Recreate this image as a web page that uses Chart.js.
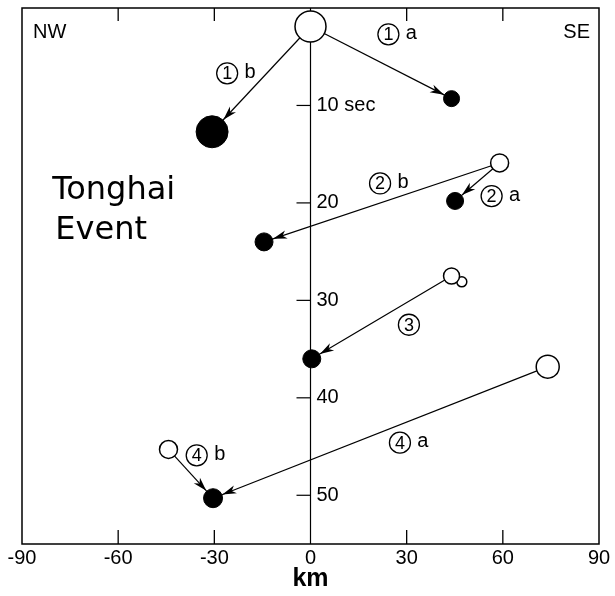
<!DOCTYPE html>
<html>
<head>
<meta charset="utf-8">
<script src="https://cdn.jsdelivr.net/npm/chart.js@4.4.0/dist/chart.umd.min.js"></script>
<style>
  html, body { margin: 0; padding: 0; background: #fff; }
  #wrap { width: 615px; height: 596px; }
</style>
</head>
<body>
<div id="wrap"><canvas id="grafico"></canvas></div>
<script>
// pontos de origem (círculos abertos)
const startNames = ['1', '2', '3s', '3', '4a', '4b'];
const startKm = [0, 59, 47.2, 44, 74, -44.3];
const startSec = [1.9, 15.9, 28.1, 27.5, 36.8, 45.3];

// pontos de destino (círculos cheios)
const endNames = ['1a', '1b', '2a', '2b', '3', '4'];
const endKm = [44, -30.7, 45.1, -14.5, 0.4, -30.4];
const endSec = [9.3, 12.7, 19.8, 24.0, 36.0, 50.3];

// setas: índice de origem -> índice de destino
const arrowFrom = [0, 0, 1, 1, 3, 4, 5];
const arrowTo = [0, 1, 2, 3, 4, 5, 5];

const xTicks = [-90, -60, -30, 0, 30, 60, 90];
const yTicks = [10, 20, 30, 40, 50];
const yTickLabels = ['10 sec', '20', '30', '40', '50'];

// rótulos circulados junto às setas
const tagNums = ['1', '1', '2', '2', '3', '4', '4'];
const tagLetters = ['a', 'b', 'b', 'a', '', 'a', 'b'];
const tagKm = [24.3, -26, 21.7, 56.5, 30.7, 27.9, -35.5];
const tagSec = [2.7, 6.7, 18.0, 19.3, 32.5, 44.6, 45.9];

// estilo (tamanhos dos círculos, em px)
const startRadius = [15.5, 9, 5, 8, 11.5, 9];
const endRadius = [8, 16, 8.5, 9, 9, 9.5];

const FONT = "'Liberation Sans', sans-serif";

const linhas = arrowFrom.map((a, i) => ({
    type: 'line',
    data: [
        { x: startKm[a], y: startSec[a] },
        { x: endKm[arrowTo[i]], y: endSec[arrowTo[i]] }
    ],
    borderColor: '#000',
    borderWidth: 1.2,
    pointRadius: 0,
    order: 2
}));

const desenhos = {
    id: 'desenhos',
    beforeDatasetsDraw(chart) {
        const { ctx, chartArea: a, scales: { x, y } } = chart;
        const cx = x.getPixelForValue(0);
        ctx.save();
        ctx.strokeStyle = '#000';
        ctx.fillStyle = '#000';

        // moldura
        ctx.lineWidth = 1.5;
        ctx.strokeRect(a.left, a.top, a.right - a.left, a.bottom - a.top);

        // marcas internas do eixo x
        ctx.lineWidth = 1.3;
        xTicks.forEach(v => {
            if (v === 0 || Math.abs(v) === 90) return;
            const px = x.getPixelForValue(v);
            ctx.beginPath();
            ctx.moveTo(px, a.top); ctx.lineTo(px, a.top + 13);
            ctx.moveTo(px, a.bottom); ctx.lineTo(px, a.bottom - 14);
            ctx.stroke();
        });

        // eixo do tempo no centro
        ctx.lineWidth = 1.2;
        ctx.beginPath();
        ctx.moveTo(cx, a.top); ctx.lineTo(cx, a.bottom);
        ctx.stroke();

        ctx.font = `20px ${FONT}`;
        ctx.textBaseline = 'middle';
        ctx.textAlign = 'left';
        yTicks.forEach((v, i) => {
            const py = y.getPixelForValue(v);
            ctx.beginPath();
            ctx.moveTo(cx - 14, py); ctx.lineTo(cx, py);
            ctx.stroke();
            ctx.fillText(yTickLabels[i], cx + 6, py);
        });

        ctx.fillText('NW', a.left + 11, a.top + 24);
        ctx.textAlign = 'right';
        ctx.fillText('SE', a.right - 9, a.top + 24);

        ctx.textAlign = 'left';
        ctx.font = `32px 'DejaVu Sans', sans-serif`;
        ctx.fillText('Tonghai', x.getPixelForValue(-80.6), y.getPixelForValue(18.7));
        ctx.fillText('Event', x.getPixelForValue(-79.6), y.getPixelForValue(22.9));
        ctx.restore();
    },
    afterDatasetsDraw(chart) {
        const { ctx, scales: { x, y } } = chart;
        ctx.save();
        ctx.fillStyle = '#000';
        ctx.strokeStyle = '#000';

        // pontas das setas
        arrowFrom.forEach((s, i) => {
            const e = arrowTo[i];
            const x0 = x.getPixelForValue(startKm[s]), y0 = y.getPixelForValue(startSec[s]);
            const x1 = x.getPixelForValue(endKm[e]), y1 = y.getPixelForValue(endSec[e]);
            const len = Math.hypot(x1 - x0, y1 - y0);
            const dx = (x1 - x0) / len, dy = (y1 - y0) / len;
            const tx = x1 - dx * (endRadius[e] + 0.5), ty = y1 - dy * (endRadius[e] + 0.5);
            const bx = tx - dx * 14, by = ty - dy * 14;
            ctx.beginPath();
            ctx.moveTo(tx, ty);
            ctx.lineTo(bx - dy * 4.2, by + dx * 4.2);
            ctx.lineTo(tx - dx * 10, ty - dy * 10);
            ctx.lineTo(bx + dy * 4.2, by - dx * 4.2);
            ctx.closePath();
            ctx.fill();
        });

        // rótulos circulados
        tagNums.forEach((n, i) => {
            const px = x.getPixelForValue(tagKm[i]);
            const py = y.getPixelForValue(tagSec[i]);
            ctx.lineWidth = 1.3;
            ctx.beginPath();
            ctx.arc(px, py, 10.5, 0, Math.PI * 2);
            ctx.stroke();
            ctx.textAlign = 'center';
            ctx.textBaseline = 'middle';
            ctx.font = `18px ${FONT}`;
            ctx.fillText(n, px, py + 1);
            if (tagLetters[i]) {
                ctx.font = `20px ${FONT}`;
                ctx.fillText(tagLetters[i], px + 23, py - 1);
            }
        });
        ctx.restore();
    }
};

new Chart(document.getElementById('grafico'), {
    type: 'scatter',
    data: {
        datasets: [
            ...linhas,
            {
                label: 'origem',
                data: startKm.map((v, i) => ({ x: v, y: startSec[i] })),
                pointRadius: startRadius,
                pointHoverRadius: startRadius,
                pointBackgroundColor: '#fff',
                pointBorderColor: '#000',
                pointBorderWidth: 1.5,
                order: 1
            },
            {
                label: 'destino',
                data: endKm.map((v, i) => ({ x: v, y: endSec[i] })),
                pointRadius: endRadius,
                pointHoverRadius: endRadius,
                pointBackgroundColor: '#000',
                pointBorderColor: '#000',
                pointBorderWidth: 1,
                order: 0
            }
        ]
    },
    options: {
        responsive: true,
        maintainAspectRatio: false,
        animation: false,
        layout: { autoPadding: false, padding: { left: 22, right: 16, top: 8, bottom: 0 } },
        plugins: { legend: { display: false }, tooltip: { enabled: false } },
        scales: {
            x: {
                type: 'linear',
                min: -90,
                max: 90,
                afterBuildTicks: s => { s.ticks = xTicks.map(v => ({ value: v })); },
                afterFit: s => { s.height = 52; s.paddingLeft = 0; s.paddingRight = 0; },
                grid: { display: false, drawTicks: false },
                border: { display: false },
                ticks: { color: '#000', font: { family: FONT, size: 20 }, padding: 2, maxRotation: 0 },
                title: { display: true, text: 'km', color: '#000', font: { family: FONT, size: 25, weight: 'bold' }, padding: { top: 0, bottom: 2 } }
            },
            y: {
                type: 'linear',
                reverse: true,
                min: 0,
                max: 55,
                display: false,
                afterFit: s => { s.width = 0; s.paddingTop = 0; s.paddingBottom = 0; }
            }
        }
    },
    plugins: [desenhos]
});
</script>
</body>
</html>
